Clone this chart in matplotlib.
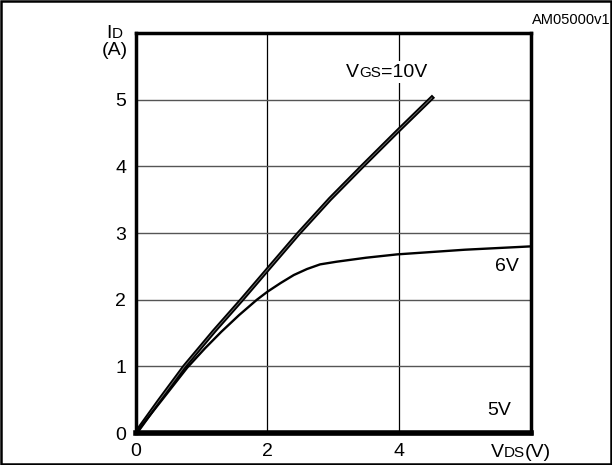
import matplotlib
matplotlib.use("Agg")
from matplotlib import pyplot as plt
from matplotlib.offsetbox import TextArea, HPacker, AnnotationBbox
from matplotlib.patches import Rectangle

plt.rcParams['font.family'] = ['Liberation Sans', 'DejaVu Sans']

# VGS = 10V
vds_10 = [0.0, 0.35, 0.74, 1.19, 1.61, 2.0, 2.47, 2.95, 3.44, 3.97, 4.5]
id_10 = [0.0, 0.48, 1.0, 1.53, 2.0, 2.45, 2.99, 3.51, 4.0, 4.52, 5.03]
# VGS = 6V
vds_6 = [0.0, 0.4, 0.78, 1.05, 1.3, 1.57, 1.84, 2.0, 2.2, 2.4, 2.6, 2.8, 3.05, 3.5, 3.97, 5.0, 6.0]
id_6 = [0.0, 0.5, 0.98, 1.27, 1.52, 1.77, 2.0, 2.12, 2.25, 2.37, 2.46, 2.53, 2.57, 2.63, 2.68, 2.75, 2.8]
# VGS = 5V
vds_5 = [0.0, 6.0]
id_5 = [0.0, 0.0]

x_ticks = [0, 2, 4]
y_ticks = [0, 1, 2, 3, 4, 5]


def sub_label(main, sub, rest="", big=14, small=11):
    parts = [TextArea(main, textprops=dict(size=big)),
             TextArea(sub, textprops=dict(size=small))]
    if rest:
        parts.append(TextArea(rest, textprops=dict(size=big)))
    return HPacker(children=parts, align="baseline", pad=0, sep=0)


fig = plt.figure(figsize=(6.12, 4.65), dpi=100)
ax = fig.add_axes([0.222, 0.0688, 0.645, 0.860])

ax.set_xlim(0, 6)
ax.set_ylim(0, 6)
for x in [2, 4]:
    ax.axvline(x, color='black', lw=0.9, zorder=1)
for y in [1, 2, 3, 4, 5]:
    ax.axhline(y, color='#555555', lw=1.0, zorder=1)

ax.plot(vds_10, id_10, color='black', lw=3.2, zorder=3)
ax.plot(vds_10, id_10, color='white', lw=0.6, zorder=3, alpha=0.45)
ax.plot(vds_6, id_6, color='black', lw=1.7, zorder=3)
ax.plot(vds_5, id_5, color='black', lw=4, zorder=3, clip_on=False)

ax.set_xticks(x_ticks)
ax.set_yticks(y_ticks)
ax.tick_params(axis='x', length=0, labelsize=14, pad=7)
ax.tick_params(axis='y', length=0, labelsize=14, pad=7)
for s in ax.spines.values():
    s.set_linewidth(2.5)

# labels
ab = AnnotationBbox(sub_label("V", "GS", "=10V"), (0.566, 0.845),
                    xycoords='figure fraction', box_alignment=(0, 0.5),
                    frameon=True, pad=0.2, zorder=4,
                    bboxprops=dict(facecolor='white', edgecolor='none'))
fig.add_artist(ab)
fig.add_artist(AnnotationBbox(sub_label("I", "D"), (0.174, 0.927),
                              xycoords='figure fraction', box_alignment=(0, 0.5),
                              frameon=False, pad=0))
fig.text(0.166, 0.891, "(A)", fontsize=14, va='center', ha='left')
fig.add_artist(AnnotationBbox(sub_label("V", "DS", "(V)"), (0.802, 0.027),
                              xycoords='figure fraction', box_alignment=(0, 0.5),
                              frameon=False, pad=0))
fig.text(0.997, 0.957, "AM05000v1", fontsize=10.5, ha='right', va='center')
ax.text(5.64, 2.5, "6V", fontsize=14, ha='center', va='center')
ax.text(5.52, 0.34, "5V", fontsize=14, ha='center', va='center')

fig.add_artist(Rectangle((0.002, 0.002), 0.996, 0.996, transform=fig.transFigure,
                         fill=False, edgecolor='black', lw=1.8))

fig.savefig("out.png", dpi=100)
